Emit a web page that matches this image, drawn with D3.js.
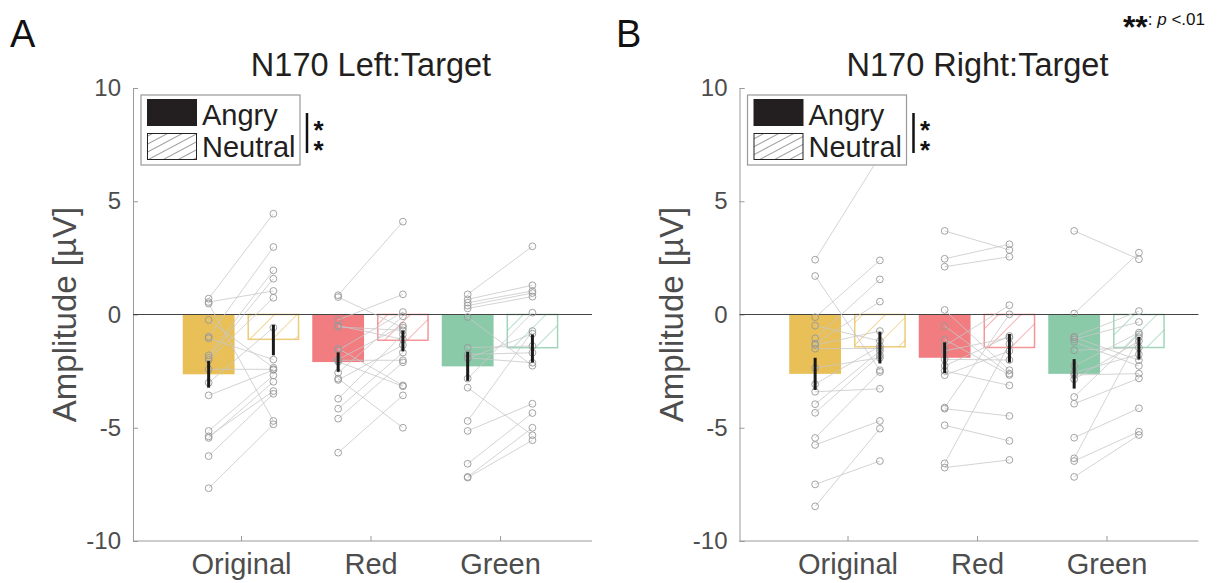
<!DOCTYPE html>
<html>
<head>
<meta charset="utf-8">
<script src="https://cdn.jsdelivr.net/npm/d3@7"></script>
<style>
  html, body { margin: 0; padding: 0; background: #fff; }
  svg { display: block; font-family: "Liberation Sans", Arial, sans-serif; }
</style>
</head>
<body>
<svg id="chart" width="1222" height="583"></svg>
<script>
// ---- data -------------------------------------------------------------
const categories = ["Original", "Red", "Green"];
const conditions = ["Angry", "Neutral"];
const yTicks = [10, 5, 0, -5, -10];
const panelTitles = ["N170 Left:Target", "N170 Right:Target"];
const panelLetters = ["A", "B"];
const colorsByCategory = ["#e9bf57", "#f17d81", "#8acaa9"];

// group means and standard errors (µV), [Original, Red, Green]
const leftAngryMean   = [-2.64, -2.10, -2.29];
const leftNeutralMean = [-1.13, -1.17, -1.50];
const leftAngrySem    = [0.59, 0.43, 0.64];
const leftNeutralSem  = [0.67, 0.46, 0.62];
const rightAngryMean   = [-2.62, -1.91, -2.62];
const rightNeutralMean = [-1.46, -1.49, -1.49];
const rightAngrySem    = [0.71, 0.68, 0.65];
const rightNeutralSem  = [0.70, 0.63, 0.50];

// individual participants (same index = same participant within a category)
const leftOriginalAngry   = [0.70, 0.55, 0.48, -0.24, -0.98, -1.05, -1.80, -1.91, -2.01, -2.42, -3.01, -3.57, -5.14, -5.38, -5.45, -6.25, -7.67];
const leftOriginalNeutral = [4.45, 1.04, -4.70, -2.35, 2.98, -1.99, 1.95, 1.58, 0.74, -2.42, -0.58, -2.45, -2.69, -3.38, -2.97, -3.50, -4.85];
const leftRedAngry        = [0.85, 0.77, -0.24, -0.49, -0.55, -1.50, -1.58, -1.99, -2.02, -2.08, -2.57, -2.83, -2.89, -3.72, -4.16, -4.60, -6.10];
const leftRedNeutral      = [4.10, -0.58, 0.89, -1.10, -0.70, -3.13, 0.11, -0.49, -2.02, -3.17, -0.08, -5.00, -1.35, -0.88, -1.68, -2.11, -3.57];
const leftGreenAngry      = [0.89, 0.67, 0.52, 0.39, 0.27, -0.11, -1.46, -1.76, -1.91, -1.94, -2.83, -3.23, -4.70, -5.14, -6.59, -7.17, -7.20];
const leftGreenNeutral    = [3.01, 1.29, 1.04, 0.95, 0.79, -2.26, -1.39, -1.69, -2.13, -0.85, 0.08, -5.33, -0.73, -3.94, -4.35, -5.00, -5.55];

const rightOriginalAngry   = [2.42, 1.70, -0.12, -0.49, -1.05, -1.29, -1.35, -1.51, -2.36, -3.08, -3.41, -3.96, -4.34, -5.45, -5.76, -7.50, -8.47];
const rightOriginalNeutral = [7.00, -2.46, 2.39, -1.17, 1.55, 0.57, -0.73, -1.50, -1.91, -1.39, -3.28, -1.61, -1.80, -2.54, -4.70, -6.47, -5.04];
const rightRedAngry        = [3.69, 2.46, 2.11, 0.20, -0.51, -1.10, -1.39, -1.61, -1.98, -2.27, -2.49, -2.68, -4.11, -4.16, -4.89, -6.57, -6.76];
const rightRedNeutral      = [2.85, 3.10, 2.55, -2.46, -2.61, -2.67, 0.41, -1.02, -2.01, -0.95, -3.13, -1.61, 0.01, -4.48, -5.58, -1.30, -6.42];
const rightGreenAngry      = [3.69, 0.04, -0.99, -1.00, -1.10, -1.21, -1.58, -2.27, -2.57, -2.67, -2.86, -3.64, -3.94, -5.44, -6.35, -6.47, -7.17];
const rightGreenNeutral    = [2.44, 2.73, 0.15, -2.02, -0.33, -2.27, -1.46, -0.80, -1.76, -2.61, -1.17, -0.88, -2.82, -4.14, -1.00, -5.17, -5.32];

const panels = [
  {
    title: panelTitles[0], letter: panelLetters[0], left: 133, right: 592, letterX: 10,
    angryMean: leftAngryMean, neutralMean: leftNeutralMean,
    angrySem: leftAngrySem, neutralSem: leftNeutralSem,
    angry: [leftOriginalAngry, leftRedAngry, leftGreenAngry],
    neutral: [leftOriginalNeutral, leftRedNeutral, leftGreenNeutral]
  },
  {
    title: panelTitles[1], letter: panelLetters[1], left: 739.5, right: 1198.5, letterX: 616,
    angryMean: rightAngryMean, neutralMean: rightNeutralMean,
    angrySem: rightAngrySem, neutralSem: rightNeutralSem,
    angry: [rightOriginalAngry, rightRedAngry, rightGreenAngry],
    neutral: [rightOriginalNeutral, rightRedNeutral, rightGreenNeutral]
  }
];

// ---- drawing ----------------------------------------------------------
const svg = d3.select("#chart");
const plotTop = 88, plotBottom = 541;
const barOffset = 0.25, barWidth = 0.40;
const axisGrey = "#4d4d4d";

const defs = svg.append("defs");
function hatch(id, color, spacing, angle, width) {
  const p = defs.append("pattern")
    .attr("id", id)
    .attr("patternUnits", "userSpaceOnUse")
    .attr("width", spacing).attr("height", spacing)
    .attr("patternTransform", `rotate(${angle})`);
  p.append("line")
    .attr("x1", 0).attr("y1", 0).attr("x2", 0).attr("y2", spacing)
    .attr("stroke", color).attr("stroke-width", width);
}
colorsByCategory.forEach((c, i) => hatch("hatch" + i, c, 16, 45, 1.2));
hatch("hatchLegend", "#222", 7, 62, 0.9);

panels.forEach((P) => {
  const x = d3.scaleLinear().domain([0.166, 3.71]).range([P.left, P.right]);
  const y = d3.scaleLinear().domain([-10, 10]).range([plotBottom, plotTop]);
  const g = svg.append("g");

  // y axis
  const yAxis = d3.axisLeft(y).tickValues(yTicks).tickSize(-5).tickPadding(12)
    .tickFormat((d) => String(d));
  const ya = g.append("g").attr("transform", `translate(${P.left},0)`).call(yAxis);
  ya.select(".domain").attr("stroke", "#9a9a9a").attr("stroke-width", 1);
  ya.selectAll(".tick line").attr("stroke", "#9a9a9a");
  ya.selectAll(".tick text").attr("font-size", 24).attr("fill", axisGrey)
    .attr("font-family", "Liberation Sans, Arial, sans-serif");

  // x axis
  const xAxis = d3.axisBottom(x).tickValues([1, 2, 3]).tickSize(-5).tickPadding(12)
    .tickFormat((d) => categories[d - 1]);
  const xa = g.append("g").attr("transform", `translate(0,${plotBottom})`).call(xAxis);
  xa.select(".domain").attr("stroke", "#9a9a9a").attr("stroke-width", 1)
    .attr("d", `M${P.left},0H${P.right}`);
  xa.selectAll(".tick line").attr("stroke", "#9a9a9a");
  xa.selectAll(".tick text").attr("font-size", 29).attr("fill", axisGrey)
    .attr("font-family", "Liberation Sans, Arial, sans-serif");

  // bars
  categories.forEach((cat, i) => {
    const cx = i + 1;
    const aMean = P.angryMean[i], nMean = P.neutralMean[i];
    g.append("rect")
      .attr("x", x(cx - barOffset - barWidth / 2))
      .attr("width", x(barWidth) - x(0))
      .attr("y", y(Math.max(0, aMean)))
      .attr("height", Math.abs(y(aMean) - y(0)))
      .attr("fill", colorsByCategory[i]);
    g.append("rect")
      .attr("x", x(cx + barOffset - barWidth / 2) + 0.75)
      .attr("width", x(barWidth) - x(0) - 1.5)
      .attr("y", y(Math.max(0, nMean)))
      .attr("height", Math.abs(y(nMean) - y(0)) - 0.75)
      .attr("fill", `url(#hatch${i})`)
      .attr("stroke", colorsByCategory[i])
      .attr("stroke-opacity", 0.8)
      .attr("stroke-width", 1.5);
  });

  // zero line
  g.append("line")
    .attr("x1", P.left).attr("x2", P.right)
    .attr("y1", y(0)).attr("y2", y(0))
    .attr("stroke", "#444").attr("stroke-width", 1.2);

  // paired participant lines and points
  categories.forEach((cat, i) => {
    const cx = i + 1;
    const xA = x(cx - barOffset), xN = x(cx + barOffset);
    const pairs = P.angry[i].map((a, k) => [a, P.neutral[i][k]]);
    g.append("g").selectAll("line").data(pairs).join("line")
      .attr("x1", xA).attr("x2", xN)
      .attr("y1", (d) => y(d[0])).attr("y2", (d) => y(d[1]))
      .attr("stroke", "#c8c8c8").attr("stroke-width", 0.8);
    const pts = [];
    pairs.forEach((d) => { pts.push([xA, d[0]]); pts.push([xN, d[1]]); });
    g.append("g").selectAll("circle").data(pts).join("circle")
      .attr("cx", (d) => d[0]).attr("cy", (d) => y(d[1]))
      .attr("r", 3.4)
      .attr("fill", "none")
      .attr("stroke", "#999").attr("stroke-width", 0.9);
  });

  // error bars (mean ± SEM)
  categories.forEach((cat, i) => {
    const cx = i + 1;
    [[cx - barOffset, P.angryMean[i], P.angrySem[i]],
     [cx + barOffset, P.neutralMean[i], P.neutralSem[i]]].forEach(([px, m, s]) => {
      g.append("line")
        .attr("x1", x(px)).attr("x2", x(px))
        .attr("y1", y(m + s)).attr("y2", y(m - s))
        .attr("stroke", "#1a1a1a").attr("stroke-width", 3);
    });
  });

  // legend
  const lx = P.left + 8, ly = 95;
  const lg = g.append("g");
  lg.append("rect").attr("x", lx).attr("y", ly).attr("width", 159).attr("height", 70)
    .attr("fill", "#fff").attr("stroke", "#999").attr("stroke-width", 1.2);
  lg.append("rect").attr("x", lx + 6).attr("y", ly + 4).attr("width", 50).attr("height", 27)
    .attr("fill", "#231f20");
  lg.append("rect").attr("x", lx + 6.5).attr("y", ly + 38.5).attr("width", 49).attr("height", 26)
    .attr("fill", "url(#hatchLegend)").attr("stroke", "#222").attr("stroke-width", 1);
  lg.append("text").attr("x", lx + 61).attr("y", ly + 30).text(conditions[0])
    .attr("font-size", 29).attr("fill", "#231f20");
  lg.append("text").attr("x", lx + 61).attr("y", ly + 62).text(conditions[1])
    .attr("font-size", 29).attr("fill", "#231f20");

  // significance marker between conditions: bar plus two stacked stars
  const sx = lx + 166;
  lg.append("line").attr("x1", sx).attr("x2", sx).attr("y1", ly + 18).attr("y2", ly + 58)
    .attr("stroke", "#111").attr("stroke-width", 2.5);
  lg.append("text")
    .attr("x", sx + 11.5).attr("y", ly + 20)
    .attr("writing-mode", "vertical-rl")
    .style("text-orientation", "upright")
    .attr("letter-spacing", -10)
    .attr("font-size", 26).attr("font-weight", "bold").attr("fill", "#111")
    .text("**");

  // title
  g.append("text").attr("x", P.left + 238).attr("y", 76)
    .attr("text-anchor", "middle").attr("font-size", 32.5).attr("fill", "#231f20")
    .text(P.title);

  // y label
  g.append("text")
    .attr("transform", `translate(${P.left - 57},${y(0)}) rotate(-90)`)
    .attr("text-anchor", "middle").attr("font-size", 33).attr("fill", axisGrey)
    .text("Amplitude [µV]");

  // panel letter
  g.append("text").attr("x", P.letterX).attr("y", 47).attr("font-size", 38)
    .attr("fill", "#111").text(P.letter);
});

// significance key
const key = svg.append("text").attr("x", 1205).attr("y", 25).attr("text-anchor", "end")
  .attr("fill", "#111").attr("font-size", 17);
key.append("tspan").attr("font-weight", "bold").attr("font-size", 32).attr("dy", 13).text("**");
key.append("tspan").attr("dy", -13).text(": ");
key.append("tspan").attr("font-style", "italic").text("p");
key.append("tspan").text(" <.01");
</script>
</body>
</html>
